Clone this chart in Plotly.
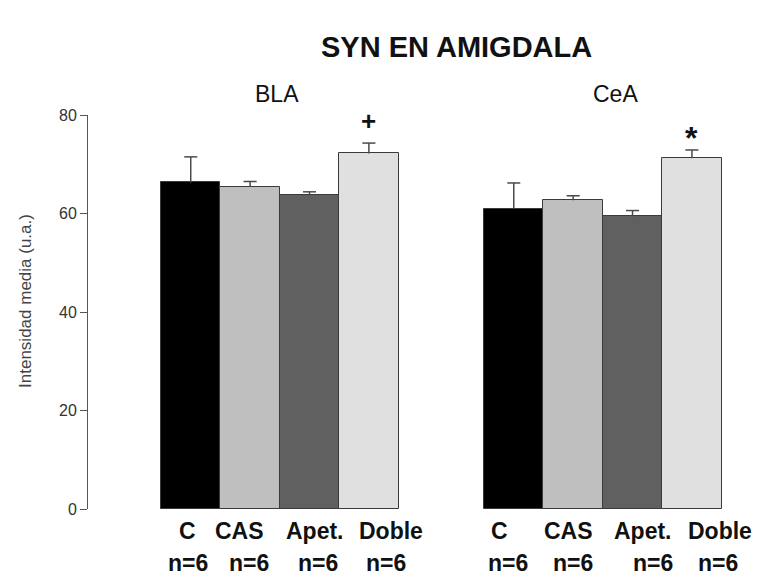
import plotly.graph_objects as go

# Data: mean intensity and SEM per group, for each amygdala region
groups = ["C", "CAS", "Apet.", "Doble"]
n_labels = ["n=6", "n=6", "n=6", "n=6"]
bla_mean = [66.3, 65.4, 63.7, 72.2]
bla_sem = [5.2, 1.1, 0.7, 2.1]
cea_mean = [61.0, 62.7, 59.4, 71.2]
cea_sem = [5.2, 0.9, 1.2, 1.7]
bar_colors = ["#000000", "#bfbfbf", "#606060", "#e0e0e0"]
bla_x = [0, 1, 2, 3]
cea_x = [5.44, 6.44, 7.44, 8.44]
region_names = ["BLA", "CeA"]
markers = ["+", "*"]
y_ticks = [0, 20, 40, 60, 80]

FONT = "Liberation Sans, Arial"
CAP_HALF = 0.11  # half width of error-bar caps, in bar-width units

fig = go.Figure()

for xs, means, sems in [(bla_x, bla_mean, bla_sem), (cea_x, cea_mean, cea_sem)]:
    fig.add_trace(go.Bar(
        x=xs, y=means, width=[1] * len(xs),
        marker=dict(color=bar_colors, line=dict(color="#3a3a3a", width=1)),
        showlegend=False, hoverinfo="skip",
    ))
    # upper-only error bars: stem from the bar top plus a cap
    ex, ey = [], []
    for x, m, s in zip(xs, means, sems):
        ex += [x, x, None, x - CAP_HALF, x + CAP_HALF, None]
        ey += [m, m + s, None, m + s, m + s, None]
    fig.add_trace(go.Scatter(
        x=ex, y=ey, mode="lines", line=dict(color="#4a4a4a", width=1.5),
        showlegend=False, hoverinfo="skip",
    ))

ann = []
# group labels under bars
label_shift_bla = [-3, -11, 5, 22]
n_shift_bla = [-3, -1, 8, 17]
label_shift_cea = [-14, -5, 10, 28]
n_shift_cea = [-6, 0, 20, 26]
for xs, ls, ns in [(bla_x, label_shift_bla, n_shift_bla), (cea_x, label_shift_cea, n_shift_cea)]:
    for x, g, n, dl, dn in zip(xs, groups, n_labels, ls, ns):
        ann.append(dict(x=x, y=0, xref="x", yref="paper", text=f"<b>{g}</b>", showarrow=False,
                        xshift=dl, yshift=-22, yanchor="middle",
                        font=dict(family=FONT, size=23, color="#111111")))
        ann.append(dict(x=x, y=0, xref="x", yref="paper", text=f"<b>{n}</b>", showarrow=False,
                        xshift=dn, yshift=-54, yanchor="middle",
                        font=dict(family=FONT, size=23, color="#111111")))

# region subtitles
for xs, name, dx in [(bla_x, region_names[0], -3), (cea_x, region_names[1], 13)]:
    ann.append(dict(x=(xs[0] + xs[-1]) / 2, y=1, xref="x", yref="paper", text=name,
                    showarrow=False, xshift=dx, yshift=21, yanchor="middle",
                    font=dict(family=FONT, size=23, color="#111111")))

# significance markers above the "Doble" bars
ann.append(dict(x=bla_x[3], y=bla_mean[3] + bla_sem[3], xref="x", yref="y", text=f"<b>{markers[0]}</b>",
                showarrow=False, yshift=22, yanchor="middle",
                font=dict(family=FONT, size=26, color="#111111")))
ann.append(dict(x=cea_x[3], y=cea_mean[3] + cea_sem[3], xref="x", yref="y", text=f"<b>{markers[1]}</b>",
                showarrow=False, yshift=12, yanchor="middle",
                font=dict(family=FONT, size=32, color="#111111")))

# main title
ann.append(dict(x=0.563, y=1, xref="paper", yref="paper", text="<b>SYN EN AMIGDALA</b>",
                showarrow=False, yshift=68, yanchor="middle",
                font=dict(family=FONT, size=29, color="#111111")))

# y-axis title
ann.append(dict(x=-0.0947, y=0.528, xref="paper", yref="paper", text="Intensidad media (u.a.)",
                showarrow=False, textangle=-90, xanchor="center", yanchor="middle",
                font=dict(family=FONT, size=17, color="#444444")))

fig.update_layout(
    width=759, height=577,
    margin=dict(l=88, r=16, t=115, b=68),
    paper_bgcolor="white", plot_bgcolor="white",
    bargap=0,
    annotations=ann,
    xaxis=dict(range=[-1.73, 9.30], visible=False),
    yaxis=dict(range=[0, 80], tickvals=y_ticks, showgrid=False, zeroline=False,
               showline=True, linecolor="#555555", linewidth=1,
               ticks="outside", ticklen=7, tickcolor="#555555",
               tickfont=dict(family=FONT, size=16, color="#333333")),
)

fig.write_html("out.html")
